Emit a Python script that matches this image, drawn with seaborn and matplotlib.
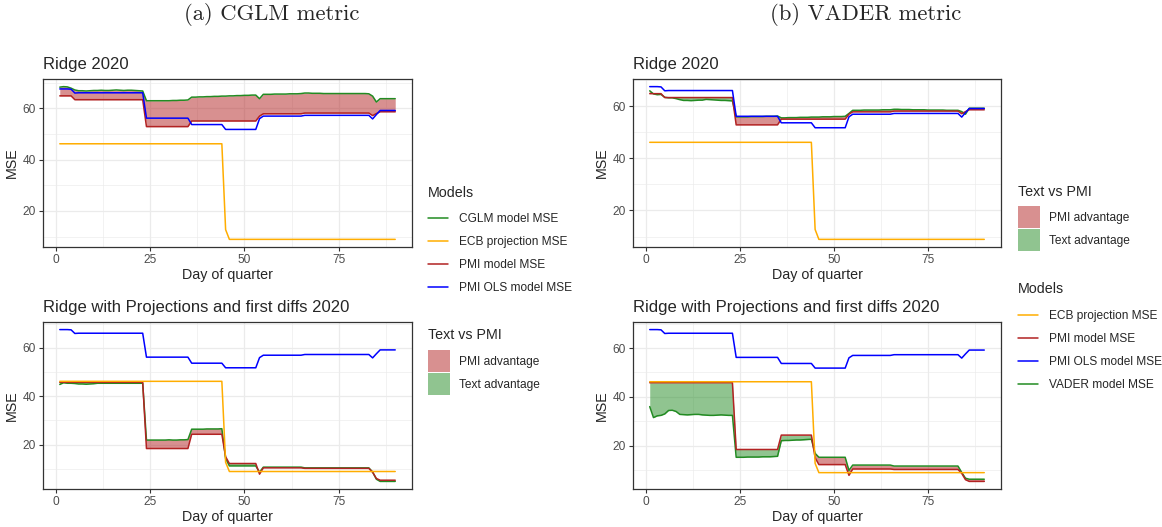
import numpy as np
import pandas as pd
import matplotlib
matplotlib.use("Agg")
import matplotlib.pyplot as plt
from matplotlib.lines import Line2D
from matplotlib.patches import Patch
from matplotlib.legend_handler import HandlerLine2D
import seaborn as sns

sns.set_theme(style="white")
plt.rcParams["font.family"] = ["Liberation Sans", "DejaVu Sans"]

# ---- data: daily out-of-sample MSE over the quarter -------------------------
day = list(range(1, 91))

pmi_ols = [67.6, 67.6, 67.6, 67.5, 66.0,
           66.1, 66.1, 66.1, 66.1, 66.1, 66.1, 66.1, 66.1, 66.1,
           66.1, 66.1, 66.1, 66.1, 66.1, 66.1, 66.1, 66.1, 66.1,
           56.2, 56.2, 56.2, 56.2, 56.2, 56.2, 56.2, 56.2, 56.2, 56.2, 56.2, 56.2,
           53.7, 53.7, 53.7, 53.7, 53.7, 53.7, 53.7, 53.7, 53.7,
           51.8, 51.8, 51.8, 51.8, 51.8, 51.8, 51.8, 51.8, 51.8,
           56.0,
           57.0, 57.0, 57.0, 57.0, 57.0, 57.0, 57.0, 57.0, 57.0, 57.0, 57.0,
           57.3, 57.3, 57.3, 57.3, 57.3, 57.3, 57.3, 57.3, 57.3,
           57.3, 57.3, 57.3, 57.3, 57.3, 57.3, 57.3, 57.3, 57.3,
           55.9, 57.6,
           59.2, 59.2, 59.2, 59.2, 59.2]

ecb_projection = [46.2] * 44 + [12.7] + [8.9] * 45

pmi_ridge = [64.9, 64.9, 64.9, 64.9,
             63.4, 63.4, 63.4, 63.4, 63.4, 63.4, 63.4, 63.4, 63.4, 63.4,
             63.4, 63.4, 63.4, 63.4, 63.4, 63.4, 63.4, 63.4, 63.4,
             52.9, 52.9, 52.9, 52.9, 52.9, 52.9, 52.9, 52.9, 52.9, 52.9, 52.9, 52.9,
             55.1, 55.1, 55.1, 55.1, 55.1, 55.1, 55.1, 55.1, 55.1,
             55.1, 55.1, 55.1, 55.1, 55.1, 55.1, 55.1, 55.1, 55.1,
             57.0,
             57.9, 57.9, 57.9, 57.9, 57.9, 57.9, 57.9, 57.9, 57.9, 57.9, 57.9,
             58.2, 58.2, 58.2, 58.2, 58.2, 58.2, 58.2, 58.2, 58.2,
             58.2, 58.2, 58.2, 58.2, 58.2, 58.2, 58.2, 58.2, 58.2,
             57.2, 58.0,
             58.7, 58.7, 58.7, 58.7, 58.7]

cglm_ridge = [68.3, 68.5, 68.4, 67.9, 67.2, 66.9, 66.9, 66.8, 66.9, 67.0,
              67.0, 67.1, 67.0, 67.0, 67.1, 67.2, 67.1, 67.0, 67.1, 67.1,
              67.0, 66.9, 66.8,
              63.0, 63.0, 63.0, 63.0, 63.0, 63.0, 63.0, 63.1, 63.1, 63.2, 63.2, 63.3,
              64.4, 64.4, 64.5, 64.5, 64.6, 64.6, 64.7, 64.7, 64.8,
              64.8, 64.9, 64.9, 65.0, 65.0, 65.1, 65.1, 65.2, 65.2,
              63.8,
              65.5, 65.5, 65.5, 65.6, 65.6, 65.6, 65.6, 65.7, 65.7, 65.7, 65.8,
              66.0, 66.0, 65.9, 65.9, 65.9, 65.8, 65.8, 65.8, 65.8,
              65.8, 65.8, 65.8, 65.8, 65.8, 65.8, 65.8, 65.8, 65.7,
              64.8, 62.5,
              63.8, 63.8, 63.8, 63.8, 63.8]

vader_ridge = [66.0, 64.8, 64.5, 64.6, 63.5, 63.3, 63.3, 63.0, 62.6, 62.3,
               62.3, 62.2, 62.3, 62.4, 62.4, 62.7, 62.6, 62.5, 62.4, 62.3,
               62.3, 62.2, 62.1,
               56.0, 56.0, 56.0, 56.0, 56.1, 56.1, 56.1, 56.1, 56.2, 56.2, 56.2, 56.3,
               55.6, 55.6, 55.7, 55.7, 55.7, 55.8, 55.8, 55.8, 55.9,
               55.9, 55.9, 56.0, 56.0, 56.0, 56.1, 56.1, 56.1, 56.2,
               57.3,
               58.5, 58.5, 58.5, 58.6, 58.6, 58.6, 58.6, 58.6, 58.7, 58.7, 58.7,
               58.9, 58.9, 58.8, 58.8, 58.8, 58.7, 58.7, 58.7, 58.7,
               58.6, 58.6, 58.6, 58.6, 58.6, 58.5, 58.5, 58.5, 58.5,
               58.0, 57.0,
               59.3, 59.3, 59.3, 59.3, 59.3]

pmi_proj = [45.8] * 23 + [18.4] * 12 + [24.3] * 9 + [15.0] + [12.2] * 8 + \
           [7.8] + [10.4] * 11 + [10.2] * 18 + [8.6, 6.0] + [5.3] * 5

cglm_proj = [44.9, 45.6, 45.4, 45.4, 45.3, 45.1, 45.1, 45.0, 45.1, 45.2,
             45.4, 45.4, 45.4, 45.4, 45.4, 45.4, 45.4, 45.4, 45.4, 45.4,
             45.4, 45.4, 45.4,
             21.9, 21.9, 21.9, 21.9, 21.9, 21.9, 22.0, 21.9, 21.9, 22.0, 22.0, 22.1,
             26.4, 26.4, 26.4, 26.4, 26.5, 26.5, 26.5, 26.5, 26.6,
             14.3,
             11.2, 11.2, 11.2, 11.2, 11.2, 11.2, 11.2, 11.2,
             8.6,
             10.7, 10.7, 10.7, 10.7, 10.7, 10.7, 10.7, 10.7, 10.7, 10.7, 10.7,
             10.4, 10.4, 10.4, 10.4, 10.4, 10.4, 10.4, 10.4, 10.4,
             10.4, 10.4, 10.4, 10.4, 10.4, 10.4, 10.4, 10.4, 10.4,
             8.7, 5.7,
             4.8, 4.8, 4.8, 4.8, 4.8]

vader_proj = [36.0, 31.5, 32.2, 32.4, 33.0, 34.4, 34.5, 34.0, 32.8, 32.7,
              32.6, 32.7, 32.8, 32.8, 32.6, 32.5, 32.4, 32.4, 32.5, 32.6,
              32.5, 32.4, 32.4,
              15.2, 15.2, 15.2, 15.3, 15.3, 15.3, 15.3, 15.4, 15.4, 15.4, 15.5, 15.6,
              22.0, 22.1, 22.1, 22.2, 22.3, 22.3, 22.4, 22.5, 22.6,
              16.8,
              15.2, 15.2, 15.2, 15.2, 15.2, 15.2, 15.2, 15.2,
              9.8,
              12.0, 12.0, 12.0, 12.0, 12.0, 12.0, 12.0, 12.0, 12.0, 12.0, 12.0,
              11.6, 11.6, 11.6, 11.6, 11.6, 11.6, 11.6, 11.6, 11.6,
              11.6, 11.6, 11.6, 11.6, 11.6, 11.6, 11.6, 11.6, 11.6,
              9.0, 6.6,
              6.2, 6.2, 6.2, 6.2, 6.2]

# ---- styling ----------------------------------------------------------------
GREEN = "#228B22"
RED = "#B22222"
BLUE = "#0000FF"
ORANGE = "#FFAD00"
FILL_ALPHA = 0.5

LBL_ECB = "ECB projection MSE"
LBL_PMI = "PMI model MSE"
LBL_OLS = "PMI OLS model MSE"

fig = plt.figure(figsize=(11.62, 5.27), dpi=100)
W, H = 1162.0, 527.0


def add_axes(x0, y0, x1, y1):
    return fig.add_axes([x0 / W, 1 - y1 / H, (x1 - x0) / W, (y1 - y0) / H])


def draw_panel(ax, title, text_label, text_vals, pmi_vals):
    t = np.asarray(text_vals)
    p = np.asarray(pmi_vals)
    # shaded gap between text-based model and the PMI benchmark
    ax.fill_between(day, p, t, where=t >= p, interpolate=True,
                    color=RED, alpha=FILL_ALPHA, lw=0, zorder=1)
    ax.fill_between(day, p, t, where=t <= p, interpolate=True,
                    color=GREEN, alpha=FILL_ALPHA, lw=0, zorder=1)

    long = pd.concat([
        pd.DataFrame({"day": day, "mse": text_vals, "model": text_label}),
        pd.DataFrame({"day": day, "mse": pmi_vals, "model": LBL_PMI}),
        pd.DataFrame({"day": day, "mse": pmi_ols, "model": LBL_OLS}),
        pd.DataFrame({"day": day, "mse": ecb_projection, "model": LBL_ECB}),
    ])
    palette = {text_label: GREEN, LBL_PMI: RED, LBL_OLS: BLUE, LBL_ECB: ORANGE}
    sns.lineplot(data=long, x="day", y="mse", hue="model",
                 hue_order=[text_label, LBL_PMI, LBL_OLS, LBL_ECB],
                 palette=palette, estimator=None, sort=False,
                 linewidth=1.1, legend=False, ax=ax, zorder=2)

    lo = long["mse"].min()
    hi = long["mse"].max()
    pad = 0.05 * (hi - lo)
    ax.set_ylim(lo - pad, hi + pad)
    ax.set_xlim(1 - 0.05 * 89, 90 + 0.05 * 89)
    ax.set_xticks([0, 25, 50, 75])
    ax.set_xticks([12.5, 37.5, 62.5, 87.5], minor=True)
    ax.set_yticks([20, 40, 60])
    ax.set_yticks([v for v in (10, 30, 50, 70) if lo - pad < v < hi + pad], minor=True)
    ax.grid(which="major", color="#EBEBEB", lw=0.9)
    ax.grid(which="minor", color="#EBEBEB", lw=0.45)
    ax.set_axisbelow(True)
    for s in ax.spines.values():
        s.set_color("#333333")
        s.set_linewidth(0.9)
    ax.tick_params(which="major", bottom=True, left=True, length=3, width=0.8,
                   color="#333333", labelsize=8.6, labelcolor="#4D4D4D", pad=2)
    ax.tick_params(which="minor", length=0)
    ax.set_xlabel("Day of quarter", fontsize=10.3, labelpad=1.5)
    ax.set_ylabel("MSE", fontsize=10.3, labelpad=3)
    ax.set_title(title, loc="left", fontsize=12, pad=7)


T1 = "Ridge 2020"
T2 = "Ridge with Projections and first diffs 2020"

ax_tl = add_axes(43, 79, 412, 247)
ax_bl = add_axes(43, 322, 412, 489)
ax_tr = add_axes(633, 79, 1001, 247)
ax_br = add_axes(633, 322, 1001, 489)

draw_panel(ax_tl, T1, "CGLM model MSE", cglm_ridge, pmi_ridge)
draw_panel(ax_bl, T2, "CGLM model MSE", cglm_proj, pmi_proj)
draw_panel(ax_tr, T1, "VADER model MSE", vader_ridge, pmi_ridge)
draw_panel(ax_br, T2, "VADER model MSE", vader_proj, pmi_proj)


# ---- legends ----------------------------------------------------------------
class CenteredLine(HandlerLine2D):
    """Legend line key drawn through the vertical middle of its key box."""

    def create_artists(self, legend, orig_handle, xdescent, ydescent,
                       width, height, fontsize, trans):
        return super().create_artists(legend, orig_handle, xdescent,
                                      2 * ydescent, width, height,
                                      fontsize, trans)


LEG_FS = 8.6
LEG_KW = dict(loc="upper left", bbox_transform=fig.transFigure, frameon=False,
              fontsize=LEG_FS, handleheight=2.46, labelspacing=0.08,
              borderpad=0, borderaxespad=0)


def legend_title(x, y, text):
    fig.text(x / W, 1 - y / H, text, ha="left", va="center", fontsize=10.3)


def model_legend(x, y_title, y_top, names, colors):
    legend_title(x, y_title, "Models")
    handles = [Line2D([], [], color=c, lw=1.1) for c in colors]
    fig.legend(handles, names, bbox_to_anchor=(x / W, 1 - y_top / H),
               handlelength=1.7, handletextpad=0.92,
               handler_map={Line2D: CenteredLine()}, **LEG_KW)


def fill_legend(x, y_title, y_top):
    legend_title(x, y_title, "Text vs PMI")
    handles = [Patch(facecolor=RED, alpha=FILL_ALPHA, edgecolor="none"),
               Patch(facecolor=GREEN, alpha=FILL_ALPHA, edgecolor="none")]
    fig.legend(handles, ["PMI advantage", "Text advantage"],
               bbox_to_anchor=(x / W, 1 - y_top / H),
               handlelength=1.84, handletextpad=0.75, **LEG_KW)


model_legend(428, 193, 207, ["CGLM model MSE", LBL_ECB, LBL_PMI, LBL_OLS],
             [GREEN, ORANGE, RED, BLUE])
fill_legend(428, 335, 350)
fill_legend(1018, 192, 206)
model_legend(1018, 289, 304, [LBL_ECB, LBL_PMI, LBL_OLS, "VADER model MSE"],
             [ORANGE, RED, BLUE, GREEN])

# ---- sub-figure captions ----------------------------------------------------
fig.text(272 / W, 1 - 15 / H, "(a) CGLM metric", ha="center", va="center",
         family="cmr10", fontsize=16.3)
fig.text(866 / W, 1 - 15 / H, "(b) VADER metric", ha="center", va="center",
         family="cmr10", fontsize=16.3)

fig.savefig("out.png", dpi=100)
